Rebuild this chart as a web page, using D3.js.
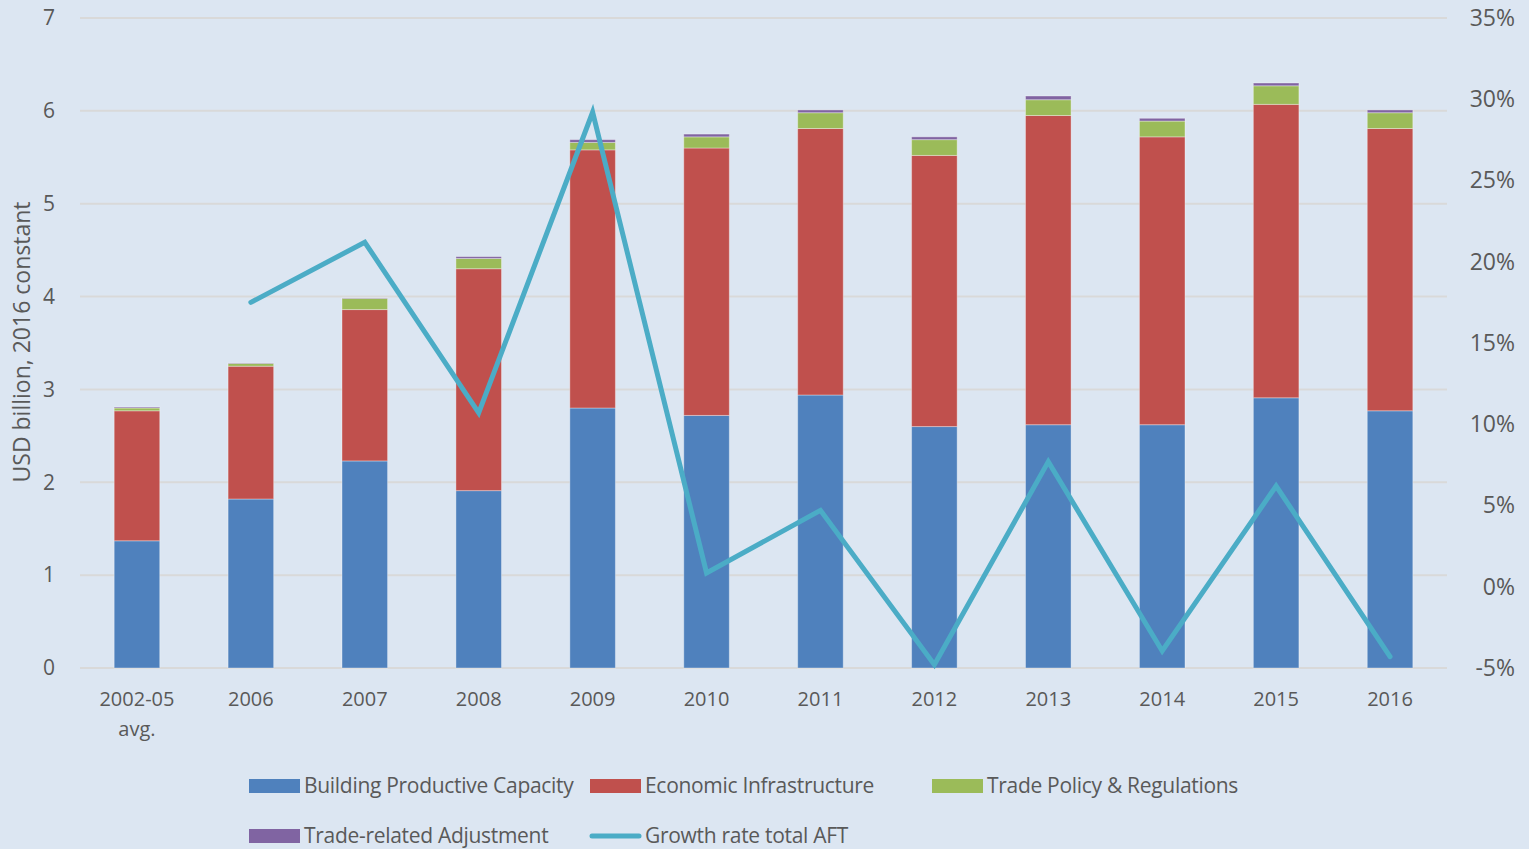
<!DOCTYPE html>
<html>
<head>
<meta charset="utf-8">
<script src="https://cdn.jsdelivr.net/npm/d3@7"></script>
<style>
  html, body { margin: 0; padding: 0; background: #DCE6F2; }
  svg { display: block; }
</style>
</head>
<body>
<div id="chart"></div>
<script>
var categories = ["2002-05 avg.", "2006", "2007", "2008", "2009", "2010", "2011", "2012", "2013", "2014", "2015", "2016"];
var buildingCapacity = [1.37, 1.82, 2.23, 1.91, 2.80, 2.72, 2.94, 2.60, 2.62, 2.62, 2.91, 2.77];
var economicInfra    = [1.40, 1.43, 1.63, 2.39, 2.78, 2.88, 2.87, 2.92, 3.33, 3.10, 3.16, 3.04];
var tradePolicy      = [0.03, 0.03, 0.12, 0.11, 0.08, 0.12, 0.17, 0.17, 0.17, 0.17, 0.20, 0.17];
var tradeAdjustment  = [0.01, 0.005, 0.005, 0.02, 0.03, 0.03, 0.03, 0.03, 0.04, 0.03, 0.03, 0.03];
var growthRate       = [null, 17.5, 21.2, 10.7, 29.2, 0.85, 4.7, -4.8, 7.7, -3.95, 6.2, -4.3];
var leftTicks  = [0, 1, 2, 3, 4, 5, 6, 7];
var rightTicks = [-5, 0, 5, 10, 15, 20, 25, 30, 35];

var width = 1529, height = 849;
var margin = {top: 18, right: 82, bottom: 181, left: 80};
var seriesNames = ["Building Productive Capacity", "Economic Infrastructure", "Trade Policy & Regulations", "Trade-related Adjustment"];
var colors = ["#4F81BD", "#C0504D", "#9BBB59", "#8064A2"];
var lineColor = "#4BACC6";

var rows = categories.map(function(c, i) {
  return {cat: c, b: buildingCapacity[i], e: economicInfra[i], t: tradePolicy[i], a: tradeAdjustment[i]};
});
var stack = d3.stack().keys(["b", "e", "t", "a"])(rows);

var svg = d3.select("#chart").append("svg")
  .attr("width", width)
  .attr("height", height);

svg.append("rect").attr("width", width).attr("height", height).attr("fill", "#DCE6F2");

var x = d3.scaleBand()
  .domain(categories)
  .range([margin.left, width - margin.right])
  .paddingInner(0.6)
  .paddingOuter(0.3);

var y = d3.scaleLinear().domain([0, 7]).range([height - margin.bottom, margin.top]);
var y2 = d3.scaleLinear().domain([-5, 35]).range([height - margin.bottom, margin.top]);

// gridlines
svg.append("g")
  .selectAll("line")
  .data(leftTicks)
  .enter()
  .append("line")
  .attr("x1", margin.left)
  .attr("x2", width - margin.right)
  .attr("y1", function(d) { return y(d); })
  .attr("y2", function(d) { return y(d); })
  .attr("stroke", "#D9D9D9")
  .attr("stroke-width", 2);

// stacked bars
svg.append("g")
  .selectAll("g")
  .data(stack)
  .enter()
  .append("g")
  .attr("fill", function(d, i) { return colors[i]; })
  .selectAll("rect")
  .data(function(d) { return d; })
  .enter()
  .append("rect")
  .attr("x", function(d) { return x(d.data.cat); })
  .attr("y", function(d) { return y(d[1]); })
  .attr("width", x.bandwidth())
  .attr("height", function(d) { return y(d[0]) - y(d[1]); })
  .attr("stroke", "rgba(255,255,255,0.35)")
  .attr("stroke-width", 1);

// growth line
var line = d3.line()
  .defined(function(d) { return d != null; })
  .x(function(d, i) { return x(categories[i]) + x.bandwidth() / 2; })
  .y(function(d) { return y2(d); });

svg.append("path")
  .datum(growthRate)
  .attr("d", line)
  .attr("fill", "none")
  .attr("stroke", lineColor)
  .attr("stroke-width", 5)
  .attr("stroke-linejoin", "miter")
  .attr("stroke-linecap", "round");

// left axis
var leftAxis = svg.append("g")
  .attr("transform", "translate(" + (margin.left - 22) + ",0)")
  .call(d3.axisLeft(y).tickValues(leftTicks).tickSize(0).tickFormat(d3.format("d")));
leftAxis.select(".domain").remove();
leftAxis.selectAll("text")
  .style("font-family", "'Open Sans', sans-serif")
  .style("font-size", "21px")
  .attr("fill", "#595959");

// right axis
var rightAxis = svg.append("g")
  .attr("transform", "translate(" + (width - 11) + ",0)")
  .call(d3.axisLeft(y2).tickValues(rightTicks).tickSize(0).tickFormat(function(d) { return d + "%"; }));
rightAxis.select(".domain").remove();
rightAxis.selectAll("text")
  .style("font-family", "'Open Sans', sans-serif")
  .style("font-size", "23px")
  .attr("fill", "#595959");

// x labels
var xLabels = svg.append("g")
  .selectAll("text")
  .data(categories)
  .enter()
  .append("text")
  .attr("x", function(d) { return x(d) + x.bandwidth() / 2; })
  .attr("y", 706)
  .style("text-anchor", "middle")
  .style("font-family", "'Open Sans', sans-serif")
  .style("font-size", "20px")
  .attr("fill", "#595959");
xLabels.each(function(d) {
  var parts = d.split(" ");
  var t = d3.select(this);
  parts.forEach(function(p, i) {
    t.append("tspan")
      .attr("x", t.attr("x"))
      .attr("dy", i === 0 ? 0 : 30)
      .text(p);
  });
});

// y axis title
svg.append("text")
  .attr("transform", "translate(30," + 342 + ") rotate(-90)")
  .style("text-anchor", "middle")
  .style("font-family", "'Open Sans', sans-serif")
  .style("font-size", "23px")
  .attr("fill", "#595959")
  .text("USD billion, 2016 constant");

// legend
var legendItems = seriesNames.map(function(n, i) { return {name: n, color: colors[i], type: "rect"}; });
legendItems.push({name: "Growth rate total AFT", color: lineColor, type: "line"});
var legendPos = [[249, 786], [590, 786], [932, 786], [249, 836], [590, 836]];

var legend = svg.append("g")
  .selectAll("g")
  .data(legendItems)
  .enter()
  .append("g")
  .attr("transform", function(d, i) { return "translate(" + legendPos[i][0] + "," + legendPos[i][1] + ")"; });

legend.each(function(d) {
  var g = d3.select(this);
  if (d.type === "rect") {
    g.append("rect").attr("x", 0).attr("y", -7).attr("width", 51).attr("height", 14).attr("fill", d.color);
  } else {
    g.append("line").attr("x1", 2).attr("x2", 49).attr("y1", 0).attr("y2", 0)
      .attr("stroke", d.color).attr("stroke-width", 5).attr("stroke-linecap", "round");
  }
  g.append("text")
    .attr("x", 55)
    .attr("y", 0)
    .attr("dy", "0.35em")
    .style("font-family", "'Open Sans', sans-serif")
    .style("font-size", "21px")
    .style("letter-spacing", "-0.3px")
    .attr("fill", "#595959")
    .text(d.name);
});
</script>
</body>
</html>
